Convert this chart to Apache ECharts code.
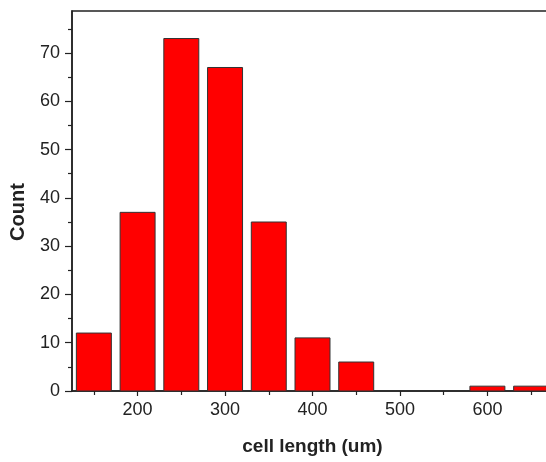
<!DOCTYPE html>
<html>
<head>
<meta charset="utf-8">
<script src="https://cdn.jsdelivr.net/npm/echarts@6/dist/echarts.min.js"></script>
<style>
  html, body { margin: 0; padding: 0; background: #fff; }
  #chart { width: 546px; height: 462px; }
</style>
</head>
<body>
<div id="chart"></div>
<script>
// Histogram of cell lengths: bin centres (um) and counts per bin
const binCenters = [150, 200, 250, 300, 350, 400, 450, 500, 550, 600, 650];
const counts = [12, 37, 73, 67, 35, 11, 6, 0, 0, 1, 1];
const binWidth = 50;

// Axis tick positions
const xMajorTicks = [200, 300, 400, 500, 600];
const xMinorTicks = [150, 250, 350, 450, 550, 650];
const yMajorTicks = [0, 10, 20, 30, 40, 50, 60, 70];
const yMinorTicks = [5, 15, 25, 35, 45, 55, 65, 75];

const xRange = [125, 675];
const yRange = [0, 78.7];

const barFill = 0.8; // share of each bin covered by its bar
const ink = '#222';
const font = '"Liberation Sans", Arial, sans-serif';

const chart = echarts.init(document.getElementById('chart'), null, { renderer: 'canvas' });

const baseX = {
  type: 'value', min: xRange[0], max: xRange[1], position: 'bottom',
  splitLine: { show: false }
};
const baseY = {
  type: 'value', min: yRange[0], max: yRange[1], position: 'left',
  splitLine: { show: false }
};

chart.setOption({
  animation: false,
  backgroundColor: '#fff',
  grid: {
    left: 72, top: 11, bottom: 71, right: -7,
    containLabel: false,
    outerBoundsMode: 'none',
    show: true, borderColor: ink, borderWidth: 1.5, backgroundColor: 'transparent'
  },
  xAxis: [
    Object.assign({}, baseX, {
      name: 'cell length (um)',
      nameLocation: 'middle',
      nameGap: 46,
      nameTextStyle: { fontFamily: font, fontSize: 19, fontWeight: 'bold', color: ink },
      axisLine: { show: true, lineStyle: { color: ink, width: 1.5 } },
      axisTick: { show: true, inside: false, length: 5, customValues: xMajorTicks, lineStyle: { color: ink, width: 1.2 } },
      axisLabel: { show: true, margin: 10, customValues: xMajorTicks, fontFamily: font, fontSize: 18, color: ink }
    }),
    Object.assign({}, baseX, {
      axisLine: { show: false },
      axisTick: { show: true, inside: false, length: 4, customValues: xMinorTicks, lineStyle: { color: ink, width: 1.2 } },
      axisLabel: { show: false }
    })
  ],
  yAxis: [
    Object.assign({}, baseY, {
      name: 'Count',
      nameLocation: 'middle',
      nameGap: 44,
      nameTextStyle: { fontFamily: font, fontSize: 20, fontWeight: 'bold', color: ink, padding: [0, 22, 0, 0] },
      axisLine: { show: true, lineStyle: { color: ink, width: 1.5 } },
      axisTick: { show: true, inside: false, length: 7, customValues: yMajorTicks, lineStyle: { color: ink, width: 1.2 } },
      axisLabel: { show: true, margin: 12, customValues: yMajorTicks, fontFamily: font, fontSize: 18, color: ink }
    }),
    Object.assign({}, baseY, {
      axisLine: { show: false },
      axisTick: { show: true, inside: false, length: 4, customValues: yMinorTicks, lineStyle: { color: ink, width: 1.2 } },
      axisLabel: { show: false }
    })
  ],
  series: [{
    type: 'custom',
    xAxisIndex: 0,
    yAxisIndex: 0,
    clip: true,
    data: binCenters.map((c, i) => [c, counts[i]]),
    renderItem: function (params, api) {
      const center = api.value(0);
      const value = api.value(1);
      if (!value) return null;
      const half = binWidth * barFill / 2;
      const topLeft = api.coord([center - half, value]);
      const bottomRight = api.coord([center + half, 0]);
      return {
        type: 'rect',
        shape: {
          x: topLeft[0], y: topLeft[1],
          width: bottomRight[0] - topLeft[0],
          height: bottomRight[1] - topLeft[1]
        },
        style: { fill: '#ff0000', stroke: '#333', lineWidth: 1 }
      };
    }
  }]
});
</script>
</body>
</html>
